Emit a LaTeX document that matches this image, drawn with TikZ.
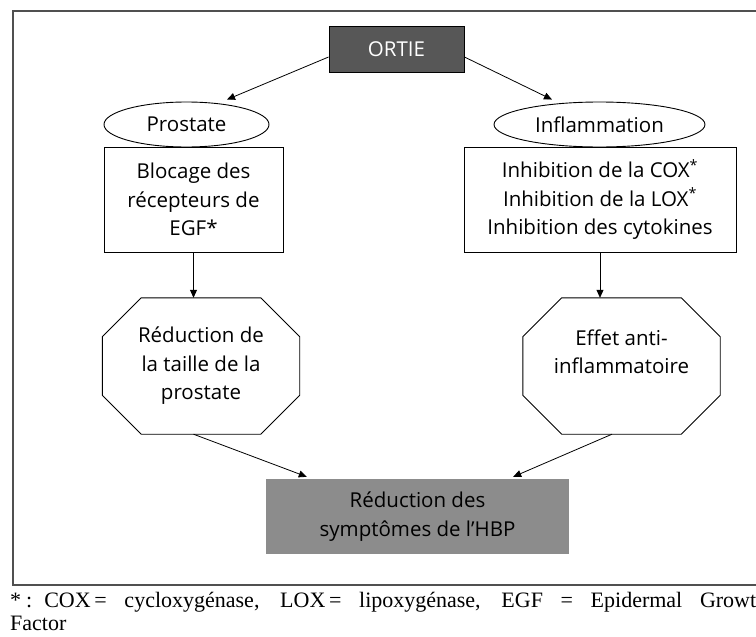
\documentclass[tikz,border=0pt]{standalone}
\usepackage{fontspec}
\setmainfont{Open Sans}
\newfontfamily\timesf{Liberation Serif}
\usetikzlibrary{arrows.meta,shapes.geometric,calc}
\definecolor{darkbox}{HTML}{575757}
\definecolor{midbox}{HTML}{8C8C8C}
\definecolor{framecol}{HTML}{505050}
\tikzset{
  txt/.style={font=\fontsize{20.5}{28.5}\selectfont, align=center, inner sep=0pt},
  ovalbox/.style={txt, ellipse, draw, line width=0.9pt, minimum height=45pt},
  plainbox/.style={txt, rectangle, draw, line width=0.9pt},
  octbox/.style={txt, rectangle, minimum width=197pt, minimum height=136pt},
  octline/.style={line width=0.9pt, line join=miter},
  arr/.style={line width=0.8pt, -{Triangle[length=8pt,width=7pt]}},
  foot/.style={font=\timesf\fontsize{22}{26}\selectfont, inner sep=0pt}
}
\begin{document}
\begin{tikzpicture}[x=1pt,y=-1pt]
\useasboundingbox (0,0) rectangle (756,637);
% frame
\draw[framecol, line width=1.6pt] (756,11) -- (13,11) -- (13,585) -- (756,585);
% nodes
\node[txt, rectangle, draw=black, line width=0.9pt, fill=darkbox, text=white,
      minimum width=135pt, minimum height=46pt] (ortie) at (396.5,49) {ORTIE};
\node[ovalbox, minimum width=165pt] (pros) at (186.5,124.5) {Prostate};
\node[ovalbox, minimum width=211pt] (infl) at (599.5,124.5) {Inflammation};
\node[plainbox, minimum width=179pt, minimum height=105pt] (lrect) at (193.5,199.5)
  {Blocage des\\récepteurs de\\EGF*};
\node[plainbox, minimum width=272pt, minimum height=105pt] (rrect) at (600,199.5)
  {Inhibition de la COX\textsuperscript{*}\\Inhibition de la LOX\textsuperscript{*}\\Inhibition des cytokines};
\node[octbox] (loct) at (201,366) {Réduction de\\la taille de la\\prostate};
\node[octbox] (roct) at (621.5,366) {Effet anti-\\inflammatoire\\\mbox{}};
\node[txt, rectangle, fill=midbox, minimum width=303pt, minimum height=75pt] (bot)
  at (417.5,516.5) {Réduction des\\symptômes de l'HBP};
% octagon outlines
\foreach \o in {loct,roct}{
  \draw[octline] ([xshift=39pt]\o.north west) -- ([xshift=-39pt]\o.north east)
    -- ([yshift=-39pt]\o.north east) -- ([yshift=39pt]\o.south east)
    -- ([xshift=-39pt]\o.south east) -- ([xshift=39pt]\o.south west)
    -- ([yshift=39pt]\o.south west) -- ([yshift=-39pt]\o.north west) -- cycle;
}
% connectors
\draw[arr] ([yshift=-8pt]ortie.west) -- ([xshift=40.5pt,yshift=2pt]pros.north);
\draw[arr] ([yshift=-8pt]ortie.east) -- ([xshift=-47.5pt,yshift=2pt]infl.north);
\draw[arr] (lrect.south) -- (lrect.south |- loct.north);
\draw[arr] (rrect.south) -- (rrect.south |- roct.north);
\draw[arr] (lrect.south |- loct.south) -- ([xshift=41pt,yshift=2pt]bot.north west);
\draw[arr] ([xshift=-9.5pt]roct.south) -- ([xshift=-56pt,yshift=2pt]bot.north east);
% footnote
\node[foot, anchor=base west] (fn1) at (10,607)
  {\makebox[746pt][s]{*\hspace{5pt}:\hspace{12pt}COX\,= cycloxygénase, LOX\,= lipoxygénase, EGF = Epidermal Growt}};
\node[foot, anchor=base west] (fn2) at (10,630) {Factor};
\end{tikzpicture}
\end{document}
